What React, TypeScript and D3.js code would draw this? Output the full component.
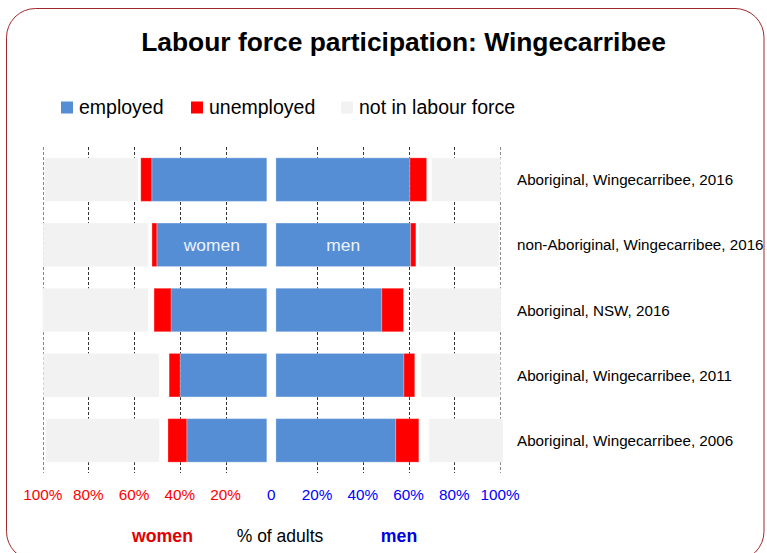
import React from "react";
import * as d3 from "d3";

const categories = [
  "Aboriginal, Wingecarribee, 2016",
  "non-Aboriginal, Wingecarribee, 2016",
  "Aboriginal, NSW, 2016",
  "Aboriginal, Wingecarribee, 2011",
  "Aboriginal, Wingecarribee, 2006",
];

const womenEmployed = [50.3, 48.1, 41.9, 37.9, 35.0];
const womenUnemployed = [4.8, 2.1, 7.4, 4.8, 8.2];
const womenNotStated = [1.2, 1.6, 2.5, 4.4, 3.8];
const womenNotInLabourForce = [40.8, 46.0, 46.2, 50.6, 49.6];

const menEmployed = [58.6, 58.9, 46.3, 56.0, 52.4];
const menUnemployed = [7.3, 2.3, 9.5, 4.7, 10.1];
const menNotStated = [2.2, 1.4, 3.2, 2.8, 4.5];
const menNotInLabourForce = [30.2, 35.0, 39.4, 34.6, 32.3];

const tickValues = [-100, -80, -60, -40, -20, 0, 20, 40, 60, 80, 100];

const keys = ["employed", "unemployed", "notStated", "nilf"];
const colors: Record<string, string> = {
  employed: "#558ED5",
  unemployed: "#FF0000",
  notStated: "none",
  nilf: "#F2F2F2",
};

const legendItems = [
  { label: "employed", color: "#558ED5" },
  { label: "unemployed", color: "#FF0000" },
  { label: "not in labour force", color: "#F2F2F2" },
];

const FONT = "'Liberation Sans', Arial, sans-serif";

export default function App() {
  const W = 767;
  const H = 553;
  const x = d3.scaleLinear().domain([-100, 100]).range([42.7, 500]);
  const y = d3
    .scaleBand<string>()
    .domain(categories)
    .range([147, 473])
    .paddingInner(0.333)
    .paddingOuter(0.1665);
  const gap = 2;

  const womenRows = categories.map((c, i) => ({
    cat: c,
    employed: womenEmployed[i],
    unemployed: womenUnemployed[i],
    notStated: womenNotStated[i],
    nilf: womenNotInLabourForce[i],
  }));
  const menRows = categories.map((c, i) => ({
    cat: c,
    employed: menEmployed[i],
    unemployed: menUnemployed[i],
    notStated: menNotStated[i],
    nilf: menNotInLabourForce[i],
  }));
  const stack = d3.stack<any>().keys(keys);
  const womenStack = stack(womenRows);
  const menStack = stack(menRows);

  const bw = y.bandwidth();
  const legendX = [61, 191, 341];

  return (
    <svg
      width={W}
      height={H}
      style={{ position: "absolute", left: 0, top: 0, background: "#fff" }}
      fontFamily={FONT}
    >
      <rect
        x={6.5}
        y={8.5}
        width={757.5}
        height={552}
        rx={29}
        ry={29}
        fill="#fff"
        stroke="#A0282D"
        strokeWidth={1}
      />
      <text
        x={403.5}
        y={50.5}
        textAnchor="middle"
        fontSize={26.4}
        fontWeight="bold"
        fill="#000"
      >
        Labour force participation: Wingecarribee
      </text>

      {legendItems.map((d, i) => (
        <g key={d.label}>
          <rect x={legendX[i]} y={101.5} width={12} height={12} fill={d.color} />
          <text x={legendX[i] + 18} y={114} fontSize={19.5} fill="#000">
            {d.label}
          </text>
        </g>
      ))}

      {/* gridlines */}
      {tickValues
        .filter((v) => v !== 0)
        .map((v) => (
          <line
            key={"g" + v}
            x1={Math.round(x(v)) + 0.5}
            x2={Math.round(x(v)) + 0.5}
            y1={147}
            y2={473}
            stroke={Math.abs(v) === 100 ? "#888" : "#333"}
            strokeWidth={1}
            strokeDasharray="3,2"
          />
        ))}

      {/* women bars */}
      {womenStack.map((layer) =>
        layer.map((seg, i) => {
          if (colors[layer.key] === "none") return null;
          const x0 = x(-(gap + seg[1]));
          const x1 = x(-(gap + seg[0]));
          return (
            <rect
              key={"w" + layer.key + i}
              x={x0}
              y={y(categories[i])}
              width={x1 - x0}
              height={bw}
              fill={colors[layer.key]}
              stroke="rgba(255,255,255,0.25)"
              strokeWidth={1}
            />
          );
        })
      )}

      {/* men bars */}
      {menStack.map((layer) =>
        layer.map((seg, i) => {
          if (colors[layer.key] === "none") return null;
          const x0 = x(gap + seg[0]);
          const x1 = x(gap + seg[1]);
          return (
            <rect
              key={"m" + layer.key + i}
              x={x0}
              y={y(categories[i])}
              width={x1 - x0}
              height={bw}
              fill={colors[layer.key]}
              stroke="rgba(255,255,255,0.25)"
              strokeWidth={1}
            />
          );
        })
      )}

      {/* in-bar labels */}
      <text
        x={(x(-gap) + x(-(gap + womenEmployed[1]))) / 2}
        y={(y(categories[1]) as number) + bw / 2 + 6}
        textAnchor="middle"
        fontSize={17.4}
        fill="#EEF3FB"
      >
        women
      </text>
      <text
        x={(x(gap) + x(gap + menEmployed[1])) / 2}
        y={(y(categories[1]) as number) + bw / 2 + 6}
        textAnchor="middle"
        fontSize={17.4}
        fill="#EEF3FB"
      >
        men
      </text>

      {/* category labels */}
      {categories.map((c) => (
        <text
          key={c}
          x={517}
          y={(y(c) as number) + bw / 2 + 5.5}
          fontSize={15.2}
          fill="#000"
        >
          {c}
        </text>
      ))}

      {/* tick labels */}
      {tickValues.map((v) => (
        <text
          key={"t" + v}
          x={x(v)}
          y={500}
          textAnchor="middle"
          fontSize={15.3}
          fill={v < 0 ? "#FF0000" : "#0000FF"}
        >
          {v === 0 ? "0" : Math.abs(v) + "%"}
        </text>
      ))}

      <text x={162.5} y={542} textAnchor="middle" fontSize={17.7} fontWeight="bold" fill="#E00000">
        women
      </text>
      <text x={280} y={542} textAnchor="middle" fontSize={17.5} fill="#000">
        % of adults
      </text>
      <text x={399} y={542} textAnchor="middle" fontSize={17.7} fontWeight="bold" fill="#0000E0">
        men
      </text>
    </svg>
  );
}
